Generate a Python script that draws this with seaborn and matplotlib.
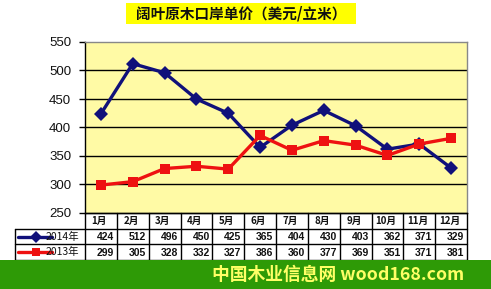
import matplotlib
matplotlib.use("Agg")
import matplotlib.pyplot as plt
import seaborn as sns
import pandas as pd
import numpy as np
from matplotlib.patches import Rectangle

months = ["1月", "2月", "3月", "4月", "5月", "6月", "7月", "8月", "9月", "10月", "11月", "12月"]
series_names = ["2014年", "2013年"]
values_2014 = [424, 512, 496, 450, 425, 365, 404, 430, 403, 362, 371, 329]
values_2013 = [299, 305, 328, 332, 327, 386, 360, 377, 369, 351, 371, 381]
yticks = [250, 300, 350, 400, 450, 500, 550]
title = "阔叶原木口岸单价（美元/立米）"
banner = "中国木业信息网 wood168.com"

sns.set_theme(style="white")
plt.rcParams['font.family'] = ['Noto Sans CJK SC', 'DejaVu Sans']

W, H = 491, 289
fig = plt.figure(figsize=(W / 100, H / 100), dpi=100)
fig.patch.set_facecolor("white")

def fx(px):
    return px / W

def fy(py):
    return 1 - py / H

L, R, T, B = 85, 467, 42, 213
ax = fig.add_axes([fx(L), fy(B), fx(R - L), fy(T) - fy(B)])
ax.set_facecolor("#fffaa5")

df = pd.DataFrame({
    "x": list(range(12)) * 2,
    "v": values_2014 + values_2013,
    "s": [series_names[0]] * 12 + [series_names[1]] * 12,
})
colors = {series_names[0]: "#10107a", series_names[1]: "#ee1111"}
sns.lineplot(data=df, x="x", y="v", hue="s", style="s", palette=colors,
             markers={series_names[0]: "D", series_names[1]: "s"}, dashes=False,
             linewidth=2.4, markersize=7, markeredgewidth=0, ax=ax, legend=False)

ax.set_xlim(-0.5, 11.5)
ax.set_ylim(250, 550)
ax.set_yticks(yticks)
ax.set_yticklabels([str(v) for v in yticks], fontsize=9.5, family="Liberation Sans", color="#111111")
ax.set_xticks([])
ax.set_xlabel("")
ax.set_ylabel("")
for y in yticks[1:-1]:
    ax.axhline(y, color="black", lw=1, zorder=0.5)
ax.tick_params(axis="y", length=4, width=1, color="black", pad=6, left=True, direction="out")
for sp in ["top", "right"]:
    ax.spines[sp].set_color("#888888")
    ax.spines[sp].set_linewidth(1)
ax.spines["left"].set_color("black")
ax.spines["left"].set_linewidth(1)
ax.spines["bottom"].set_color("black")
ax.spines["bottom"].set_linewidth(1)

# Table
TL, TB = 15, 260
unit = (R - L) / 12.0
axt = fig.add_axes([fx(TL), fy(TB), fx(R - TL), fy(B) - fy(TB)])
axt.set_xlim(-0.5 - (L - TL) / unit, 11.5)
axt.set_ylim(3, 0)
axt.axis("off")
lx0 = -0.5 - (L - TL) / unit
kw = dict(color="black", lw=1, clip_on=False)
axt.plot([-0.5, 11.5], [0, 0], **kw)
for r in [1, 2, 3]:
    axt.plot([lx0, 11.5], [r, r], **kw)
for i in range(13):
    axt.plot([i - 0.5, i - 0.5], [0, 3], **kw)
axt.plot([lx0, lx0], [1, 3], **kw)
for i, m in enumerate(months):
    axt.text(i - 0.05, 0.5, m, ha="center", va="center", fontsize=7, fontweight="bold", color="#111111")
for r, vals in enumerate([values_2014, values_2013]):
    for i, v in enumerate(vals):
        axt.text(i + 0.42, r + 1.55, str(v), ha="right", va="center", fontsize=7.5, color="#111111",
                 family="Liberation Sans", fontweight="bold")
    name = series_names[r]
    c = colors[name]
    xs = [lx0 + 0.1, lx0 + 1.15]
    axt.plot(xs, [r + 1.5, r + 1.5], color=c, lw=2.4, clip_on=False)
    axt.plot([np.mean(xs) + 0.05], [r + 1.5], marker="D" if r == 0 else "s", color=c,
             markersize=6, markeredgewidth=0, clip_on=False)
    axt.text(lx0 + 0.95, r + 1.5, name, ha="left", va="center", fontsize=7.5, color="#111111")

# Title
fig.patches.append(Rectangle((fx(126), fy(24)), fx(230), fy(3) - fy(24), transform=fig.transFigure,
                             facecolor="#ffff00", edgecolor="none"))
fig.text(fx(241), fy(13.5), title, ha="center", va="center", fontsize=10.5, fontweight="bold", color="#111111")

# Banner
fig.patches.append(Rectangle((0, 0), 1, fy(260), transform=fig.transFigure,
                             facecolor="#2e9a06", edgecolor="none"))
fig.text(fx(212), fy(274.5), banner, ha="left", va="center", fontsize=12.8, fontweight="bold", color="#ffff66")

fig.savefig("out.png", dpi=100)
